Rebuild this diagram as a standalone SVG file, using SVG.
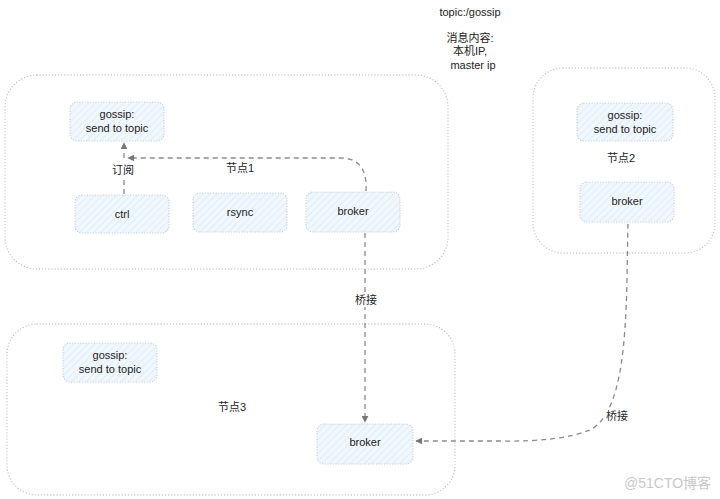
<svg xmlns="http://www.w3.org/2000/svg" width="720" height="499" viewBox="0 0 720 499">
<defs>
<pattern id="hatch" width="5" height="5" patternUnits="userSpaceOnUse" patternTransform="rotate(45)">
<rect width="5" height="5" fill="#f0f7fd"/>
<line x1="0" y1="0" x2="0" y2="5" stroke="#d6e9f8" stroke-width="1.3"/>
</pattern>
<marker id="arr" viewBox="0 0 10 10" refX="9" refY="5" markerWidth="7" markerHeight="7" orient="auto-start-reverse" markerUnits="userSpaceOnUse">
<path d="M0,0 L10,5 L0,10 z" fill="#777"/>
</marker>
</defs>
<style>
.group{fill:none;stroke:#c4c4c4;stroke-width:1.3;stroke-dasharray:0.1 3;stroke-linecap:round}
.box{fill:url(#hatch);stroke:#bccbd8;stroke-width:1.2;stroke-dasharray:0.1 2.6;stroke-linecap:round}
.t{font-family:"Liberation Sans","Noto Sans CJK SC",sans-serif;font-size:11px;fill:#222;text-anchor:middle}
.c{fill:none;stroke:#8a8a8a;stroke-width:1.3;stroke-dasharray:5 4}
.wm{font-family:"Liberation Sans","Noto Sans CJK SC",sans-serif;font-size:14px;fill:#c8c8c8}
</style>
<rect width="720" height="499" fill="#fff"/>

<g id="topic-note">
<text class="t" x="470" y="16">topic:/gossip</text>
<text class="t" x="470" y="42">消息内容:</text>
<text class="t" x="470" y="55">本机IP,</text>
<text class="t" x="473" y="69">master ip</text>
</g>

<g id="node1">
<rect class="group" x="5" y="75" width="443" height="194" rx="32"/>
<text class="t" x="240" y="172">节点1</text>
</g>
<g id="node1-gossip">
<rect class="box" x="70" y="102" width="94" height="39" rx="7"/>
<text class="t" x="117" y="118">gossip:</text>
<text class="t" x="117" y="132">send to topic</text>
</g>
<g id="node1-ctrl">
<rect class="box" x="75" y="195" width="94" height="38" rx="7"/>
<text class="t" x="122" y="218">ctrl</text>
</g>
<g id="node1-rsync">
<rect class="box" x="193" y="193" width="94" height="39" rx="7"/>
<text class="t" x="240" y="216">rsync</text>
</g>
<g id="node1-broker">
<rect class="box" x="306" y="192" width="94" height="40" rx="7"/>
<text class="t" x="353" y="215">broker</text>
</g>

<g id="node2">
<rect class="group" x="533" y="68" width="182" height="185" rx="30"/>
<text class="t" x="621" y="162">节点2</text>
</g>
<g id="node2-gossip">
<rect class="box" x="577" y="103" width="96" height="38" rx="7"/>
<text class="t" x="625" y="119">gossip:</text>
<text class="t" x="625" y="133">send to topic</text>
</g>
<g id="node2-broker">
<rect class="box" x="580" y="182" width="94" height="40" rx="7"/>
<text class="t" x="627" y="205">broker</text>
</g>

<g id="node3">
<rect class="group" x="7" y="324" width="448" height="171" rx="30"/>
<text class="t" x="232" y="411">节点3</text>
</g>
<g id="node3-gossip">
<rect class="box" x="63" y="343" width="94" height="39" rx="7"/>
<text class="t" x="110" y="359">gossip:</text>
<text class="t" x="110" y="373">send to topic</text>
</g>
<g id="node3-broker">
<rect class="box" x="317" y="424" width="96" height="40" rx="7"/>
<text class="t" x="365" y="446">broker</text>
</g>

<g id="connectors">
<path class="c" d="M124,194 L124,143" marker-end="url(#arr)"/>
<path class="c" d="M366,191 Q368,158 340,158 L128,158" marker-end="url(#arr)"/>
<path class="c" d="M365,233 L365,422" marker-end="url(#arr)"/>
<path class="c" d="M628,224 C626,300 630,410 590,430 Q560,442 500,441 L416,441" marker-end="url(#arr)"/>
<rect x="110" y="162" width="26" height="15" fill="#fff"/>
<text class="t" x="123" y="174">订阅</text>
<rect x="353" y="292" width="26" height="15" fill="#fff"/>
<text class="t" x="366" y="304">桥接</text>
<rect x="604" y="408" width="26" height="15" fill="#fff"/>
<text class="t" x="617" y="420">桥接</text>
</g>

<text class="wm" x="624" y="488">@51CTO博客</text>
</svg>
